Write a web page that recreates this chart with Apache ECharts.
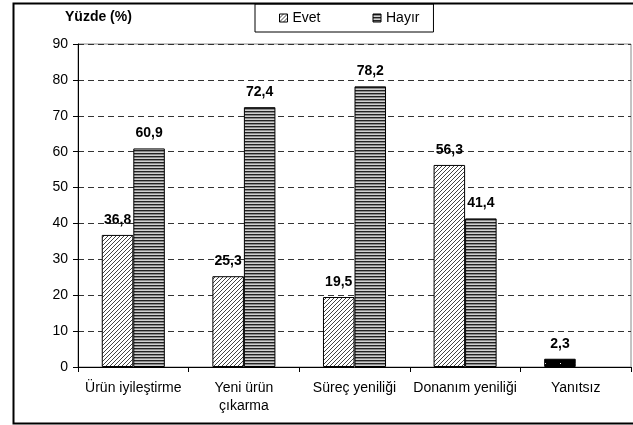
<!DOCTYPE html>
<html><head><meta charset="utf-8">
<script src="https://cdn.jsdelivr.net/npm/echarts@6/dist/echarts.min.js"></script>
<style>html,body{margin:0;padding:0;background:#fff}#c{width:633px;height:425px}</style>
</head><body><div id="c"></div>
<script>
const categories = ['Ürün iyileştirme', 'Yeni ürün\nçıkarma', 'Süreç yeniliği', 'Donanım yeniliği', 'Yanıtsız'];
const evet = [36.8, 25.3, 19.5, 56.3, 2.3];
const hayir = [60.9, 72.4, 78.2, 41.4, null];
const yTicks = [0, 10, 20, 30, 40, 50, 60, 70, 80, 90];

function pattern(w, h, draw) {
  const c = document.createElement('canvas');
  c.width = w; c.height = h;
  const g = c.getContext('2d');
  draw(g);
  return { image: c, repeat: 'repeat' };
}
const diag = pattern(4, 4, g => {
  g.fillStyle = '#fff'; g.fillRect(0, 0, 4, 4);
  g.fillStyle = '#444';
  for (let i = 0; i < 4; i++) g.fillRect(i, 3 - i, 1, 1);
});
const stripes = pattern(4, 3, g => {
  g.fillStyle = '#222'; g.fillRect(0, 0, 4, 1);
  g.fillStyle = '#8a8a8a'; g.fillRect(0, 1, 4, 1);
  g.fillStyle = '#d0d0d0'; g.fillRect(0, 2, 4, 1);
});
const dots = pattern(15, 8, g => {
  g.fillStyle = '#000'; g.fillRect(0, 0, 15, 8);
  g.fillStyle = '#fff'; g.fillRect(5, 3, 1, 1);
});

const F = 'Liberation Sans, Arial, sans-serif';
const fmt = p => p.value == null ? '' : String(p.value).replace('.', ',');

const chart = echarts.init(document.getElementById('c'), null, { renderer: 'canvas' });
chart.setOption({
  animation: false,
  textStyle: { fontFamily: F, color: '#000' },
  title: {
    text: 'Yüzde (%)', left: 60, top: 5,
    textStyle: { fontFamily: F, fontSize: 14, fontWeight: 'bold', color: '#000' }
  },
  legend: {
    left: 255, top: 4,
    padding: [7, 14, 7, 24],
    borderColor: '#000', borderWidth: 1,
    icon: 'rect',
    itemWidth: 8, itemHeight: 8, itemGap: 52,
    textStyle: { fontFamily: F, fontSize: 14, color: '#000' },
    data: [
      { name: 'Evet', itemStyle: { color: diag, borderColor: '#000', borderWidth: 1 } },
      { name: 'Hayır', itemStyle: { color: stripes, borderColor: '#000', borderWidth: 1 } }
    ]
  },
  graphic: [{
    type: 'rect', left: 11, top: 1, z: -10, silent: true,
    shape: { width: 640, height: 420 },
    style: { fill: 'none', stroke: '#000', lineWidth: 2 }
  }],
  grid: {
    left: 78, top: 44, right: 2, bottom: 58,
    show: true, borderColor: '#888', borderWidth: 1, backgroundColor: 'transparent'
  },
  xAxis: {
    type: 'category', data: categories,
    axisLine: { lineStyle: { color: '#000', width: 1 } },
    axisTick: { show: true, length: 5, lineStyle: { color: '#000' } },
    axisLabel: { color: '#000', fontFamily: F, fontSize: 14, margin: 12, lineHeight: 18, interval: 0 }
  },
  yAxis: {
    type: 'value', min: 0, max: 90, interval: 10,
    axisLine: { show: true, lineStyle: { color: '#000' } },
    axisTick: { show: true, length: 5, lineStyle: { color: '#000' } },
    axisLabel: { color: '#000', fontFamily: F, fontSize: 14, margin: 10,
      formatter: v => yTicks.includes(v) ? String(v) : '' },
    splitLine: { show: true, lineStyle: { color: '#333', type: [6, 4], width: 1 } }
  },
  series: [
    {
      name: 'Evet', type: 'bar', barGap: '0%', barCategoryGap: '43%',
      data: evet.map((v, i) => i === 4
        ? { value: v, itemStyle: { color: dots, borderColor: '#000', borderWidth: 1 } }
        : v),
      itemStyle: { color: diag, borderColor: '#000', borderWidth: 1 },
      label: { show: true, position: 'top', distance: 8, formatter: fmt,
        fontFamily: F, fontSize: 14, fontWeight: 'bold', color: '#000' }
    },
    {
      name: 'Hayır', type: 'bar', barGap: '0%', barCategoryGap: '43%',
      data: hayir,
      itemStyle: { color: stripes, borderColor: '#000', borderWidth: 1 },
      label: { show: true, position: 'top', distance: 8, formatter: fmt,
        fontFamily: F, fontSize: 14, fontWeight: 'bold', color: '#000' }
    }
  ]
});
</script></body></html>
